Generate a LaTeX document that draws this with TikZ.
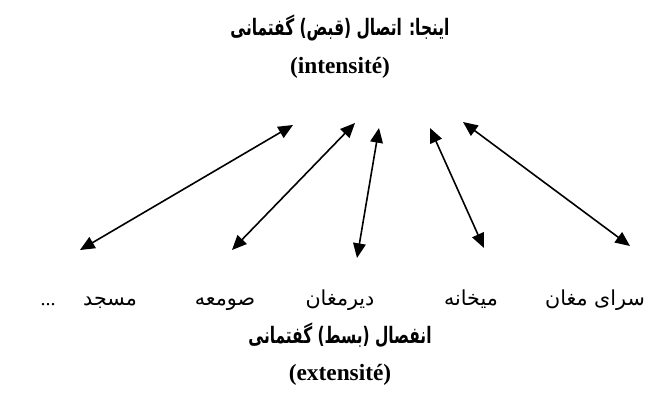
\documentclass[tikz,border=0pt]{standalone}
\usepackage{fontspec}
\setmainfont{Liberation Serif}
\newfontfamily\arabicfont[Script=Arabic]{DejaVu Sans}
\newfontfamily\arabictitle[Script=Arabic,FakeStretch=0.68]{DejaVu Sans Bold}
\TeXXeTstate=1
\usetikzlibrary{arrows.meta,positioning}
\tikzset{
    pole-fa/.style={
        font=\arabictitle\fontsize{17}{20}\selectfont,
        inner sep=0pt,
        anchor=base,
    },
    pole-fr/.style={
        font=\bfseries\fontsize{17.5}{20}\selectfont,
        inner sep=0pt,
        anchor=base,
    },
    place-label/.style={
        font=\arabicfont\fontsize{15.5}{18}\selectfont,
        inner sep=0pt,
        anchor=base,
    },
    link/.style={
        draw,
        {Triangle[length=11pt,width=9.5pt]}-{Triangle[length=11pt,width=9.5pt]},
        line width=1.2pt,
    },
}

\begin{document}
\begin{tikzpicture}[x=0.75pt,y=-0.75pt]
    \useasboundingbox (0,0) rectangle (668,395);
    % upper pole
    \node [pole-fa] (intens) at (340,36) {\beginR اینجا: اتصال (قبض) گفتمانی\endR};
    \node [pole-fr] (intensfr) at (340,74) {(intensité)};
    % places
    \node [place-label] (sara) at (595,306) {\beginR سرای مغان\endR};
    \node [place-label] (meykhane) at (471,306) {\beginR میخانه\endR};
    \node [place-label] (deyr) at (340,306) {\beginR دیرمغان\endR};
    \node [place-label] (sowmee) at (225,306) {\beginR صومعه\endR};
    \node [place-label] (masjed) at (110,306) {\beginR مسجد\endR};
    \node [place-label, font=\fontsize{15}{18}\selectfont] (etc) at (48,306) {...};
    % lower pole
    \node [pole-fa] (extens) at (340,344) {\beginR انفصال (بسط) گفتمانی\endR};
    \node [pole-fr] (extensfr) at (340,381) {(extensité)};
    % arrow ends
    \coordinate (b1) at (80,250);  \coordinate (t1) at (293,125);
    \coordinate (b2) at (232,250); \coordinate (t2) at (355,123);
    \coordinate (b3) at (357,258); \coordinate (t3) at (379,128);
    \coordinate (b4) at (484,248); \coordinate (t4) at (430,128);
    \coordinate (b5) at (630,246); \coordinate (t5) at (463,122);
    \foreach \i in {1,...,5}
        \draw [link] (b\i) -- (t\i);
\end{tikzpicture}
\end{document}
